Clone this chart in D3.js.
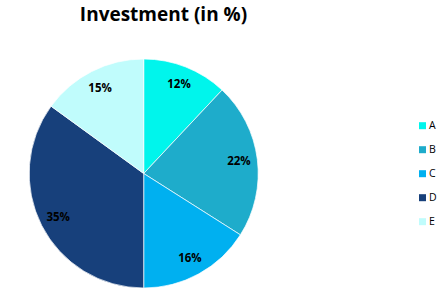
<!DOCTYPE html>
<html>
<head>
<meta charset="utf-8">
<script src="https://cdn.jsdelivr.net/npm/d3@7"></script>
<style>
  body { margin: 0; background: #fff; }
  text { font-family: "Open Sans", "Liberation Sans", sans-serif; }
</style>
</head>
<body>
<svg></svg>
<script>
// chart data
var categories = ['A', 'B', 'C', 'D', 'E'];
var values = [12, 22, 16, 35, 15];
var colors = ['#00F5EC', '#1EACCB', '#00B0F0', '#17407B', '#C0FCFC'];

var canvasWidth = 448;
var canvasHeight = 291;
var cx = 143.7, cy = 173.5, radius = 114.5;

var svg = d3.select('svg')
  .attr('width', canvasWidth)
  .attr('height', canvasHeight);

// title
svg.append('text')
  .attr('x', 163.5)
  .attr('y', 20.5)
  .attr('text-anchor', 'middle')
  .style('font-size', '19px')
  .style('font-weight', 'bold')
  .text('Investment (in %)');

var data = categories.map(function(c, i) { return { name: c, value: values[i] }; });

var pie = d3.pie().sort(null).value(function(d) { return d.value; });
var arc = d3.arc().innerRadius(0).outerRadius(radius);
var labelArc = d3.arc().innerRadius(96).outerRadius(96);

var color = d3.scaleOrdinal().domain(categories).range(colors);

var g = svg.append('g')
  .attr('transform', 'translate(' + cx + ',' + cy + ')');

var slices = g.selectAll('.slice')
  .data(pie(data))
  .enter().append('g')
  .attr('class', 'slice');

slices.append('path')
  .attr('d', arc)
  .style('fill', function(d) { return color(d.data.name); })
  .style('stroke', '#fff')
  .style('stroke-width', 0.7);

slices.append('text')
  .attr('transform', function(d) { return 'translate(' + labelArc.centroid(d) + ')'; })
  .attr('dy', '0.35em')
  .attr('text-anchor', 'middle')
  .style('font-size', '11.5px')
  .style('font-weight', 'bold')
  .text(function(d) { return d.data.value + '%'; });

// legend
var legend = svg.selectAll('.legend')
  .data(categories)
  .enter().append('g')
  .attr('class', 'legend')
  .attr('transform', function(d, i) { return 'translate(419,' + (125.7 + i * 24) + ')'; });

legend.append('rect')
  .attr('x', 0)
  .attr('y', -3.5)
  .attr('width', 7)
  .attr('height', 7)
  .style('fill', function(d) { return color(d); });

legend.append('text')
  .attr('x', 10)
  .attr('dy', '0.36em')
  .style('font-size', '10.5px')
  .text(function(d) { return d; });
</script>
</body>
</html>
